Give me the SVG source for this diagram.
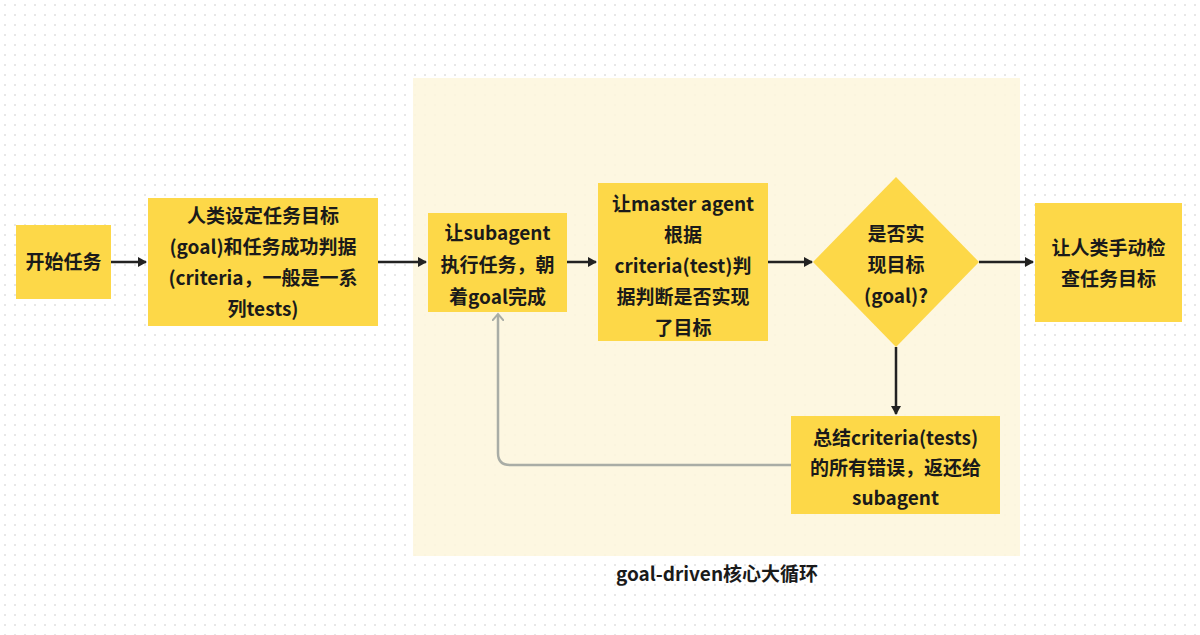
<svg xmlns="http://www.w3.org/2000/svg" width="1200" height="635" viewBox="0 0 1200 635">
<defs>
<pattern id="dots" width="10" height="10" patternUnits="userSpaceOnUse"><circle cx="5" cy="5" r="0.8" fill="#c8c8c8"/></pattern>
<marker id="ah" markerWidth="10" markerHeight="10" refX="8" refY="5" orient="auto" markerUnits="userSpaceOnUse"><path d="M0,0 L9,5 L0,10 Z" fill="#222"/></marker>
<marker id="ag" markerWidth="12" markerHeight="12" refX="6" refY="6" orient="auto" markerUnits="userSpaceOnUse"><path d="M0,0 L7,6 L0,12" fill="none" stroke="#a9ada6" stroke-width="2"/></marker>
<style>
.n{fill:#fdd848}
.t{font-family:"Noto Sans CJK SC","Noto Sans",sans-serif;font-weight:bold;font-size:19px;fill:#1a1a1a;text-anchor:middle}
.c{stroke:#222;stroke-width:2.5;fill:none}
</style>
</defs>
<rect width="1200" height="635" fill="#fff"/>
<rect width="1200" height="635" fill="url(#dots)"/>
<rect x="413" y="78" width="607" height="478" fill="#fdf6dc" opacity="0.85"/>
<text class="t" x="717" y="581">goal-driven核心大循环</text>
<g id="connectors">
<line class="c" x1="111" y1="262" x2="146" y2="262" marker-end="url(#ah)"/>
<line class="c" x1="378" y1="262" x2="426" y2="262" marker-end="url(#ah)"/>
<line class="c" x1="567" y1="262" x2="596" y2="262" marker-end="url(#ah)"/>
<line class="c" x1="768" y1="262" x2="812" y2="262" marker-end="url(#ah)"/>
<line class="c" x1="979" y1="262" x2="1033" y2="262" marker-end="url(#ah)"/>
<line class="c" x1="896" y1="347" x2="896" y2="414" marker-end="url(#ah)"/>
<path d="M791,465 H510 Q498,465 498,453 V315" stroke="#a9ada6" stroke-width="2.5" fill="none" marker-end="url(#ag)"/>
</g>
<g id="start"><rect class="n" x="16" y="225" width="95" height="74"/><text class="t" x="63.5" y="269">开始任务</text></g>
<g id="goal"><rect class="n" x="148" y="198" width="230" height="128"/>
<text class="t" x="263" y="223">人类设定任务目标</text><text class="t" x="263" y="254">(goal)和任务成功判据</text><text class="t" x="263" y="285">(criteria，一般是一系</text><text class="t" x="263" y="316">列tests)</text></g>
<g id="subagent"><rect class="n" x="428" y="213" width="139" height="99"/>
<text class="t" x="497.5" y="240">让subagent</text><text class="t" x="497.5" y="272">执行任务，朝</text><text class="t" x="497.5" y="304">着goal完成</text></g>
<g id="master"><rect class="n" x="598" y="183" width="170" height="158"/>
<text class="t" x="683" y="211">让master agent</text><text class="t" x="683" y="242">根据</text><text class="t" x="683" y="273">criteria(test)判</text><text class="t" x="683" y="304">据判断是否实现</text><text class="t" x="683" y="335">了目标</text></g>
<g id="decision"><polygon class="n" points="896,177 979,262 896,347 813,262"/>
<text class="t" x="896" y="241">是否实</text><text class="t" x="896" y="272">现目标</text><text class="t" x="896" y="303">(goal)?</text></g>
<g id="human"><rect class="n" x="1035" y="203" width="147" height="119"/>
<text class="t" x="1108.5" y="255">让人类手动检</text><text class="t" x="1108.5" y="286">查任务目标</text></g>
<g id="summary"><rect class="n" x="791" y="416" width="209" height="98"/>
<text class="t" x="895.5" y="445">总结criteria(tests)</text><text class="t" x="895.5" y="475">的所有错误，返还给</text><text class="t" x="895.5" y="505">subagent</text></g>
</svg>
